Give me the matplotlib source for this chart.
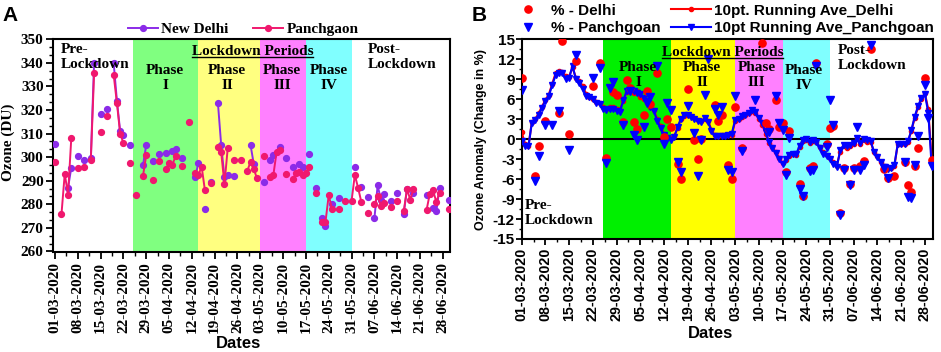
import numpy as np
import pandas as pd
import matplotlib
matplotlib.use('Agg')
import matplotlib.pyplot as plt
from matplotlib.lines import Line2D
from matplotlib.ticker import AutoMinorLocator

plt.rcParams['axes.unicode_minus'] = False
SERIF = 'Liberation Serif'
SANS = 'Liberation Sans'

# ---------------- data ----------------
start_date = '01-03-2020'
tick_labels = ['01-03-2020', '08-03-2020', '15-03-2020', '22-03-2020', '29-03-2020',
               '05-04-2020', '12-04-2020', '19-04-2020', '26-04-2020', '03-05-2020',
               '10-05-2020', '17-05-2020', '24-05-2020', '31-05-2020', '07-06-2020',
               '14-06-2020', '21-06-2020', '28-06-2020']
phase_bounds = ['25-03-2020', '14-04-2020', '03-05-2020', '17-05-2020', '31-05-2020']
phase_names = ['Phase\nI', 'Phase\nII', 'Phase\nIII', 'Phase\nIV']

# Panel A: total column ozone (DU); day offsets from 01-03-2020
delhi_days = [0, 4, 5, 7, 9, 11, 12, 14, 16, 18, 19, 20, 21, 23, 27, 28, 30, 32, 34, 36,
              37, 39, 43, 44, 46, 48, 50, 51, 52, 53, 55, 60, 61, 64, 66, 67, 69, 71, 73, 75,
              76, 78, 80, 82, 83, 85, 87, 92, 94, 96, 98, 99, 100, 101, 103, 105, 107, 108,
              110, 114, 116, 117, 118, 121]
delhi_o3 = [305.5, 287, 295.5, 300.5, 299, 299.5, 340, 318.3, 320.3, 340, 324, 311, 309.5,
            305, 296.5, 305.2, 298.5, 301.4, 301.6, 302.8, 303.3, 299.5, 291.7, 297.4, 278,
            289.3, 322.9, 305, 291.5, 292.5, 292.2, 305.2, 297, 289.6, 299, 301, 304.5,
            299.5, 295.7, 297, 295.7, 301.2, 287, 274, 271, 280, 282.5, 296, 287.5, 283,
            274, 288, 282, 284.5, 281.5, 285, 276, 286.5, 285, 284, 278.5, 277, 287, 282]
panch_days = [0, 2, 3, 4, 5, 7, 9, 11, 12, 14, 16, 18, 19, 20, 21, 23, 25, 27, 28, 30, 32,
              34, 35, 36, 37, 39, 41, 43, 44, 45, 46, 48, 50, 51, 52, 53, 55, 57, 59, 60, 61,
              62, 64, 66, 67, 68, 69, 71, 73, 74, 75, 76, 77, 78, 80, 82, 83, 84, 85, 87, 89,
              91, 92, 93, 94, 96, 98, 99, 100, 101, 103, 105, 107, 108, 109, 110, 114, 115,
              116, 117, 118, 121]
panch_o3 = [298, 276, 293, 284, 308, 295.5, 296, 299, 335.5, 310.8, 317.5, 335, 323, 310,
            306, 297.7, 284, 292, 301, 290.3, 298.5, 294.9, 297.4, 296.7, 300.5, 296.3, 315,
            293.4, 292.4, 296, 286, 288.9, 304.5, 302, 288.6, 303.8, 298.9, 298.8, 294.1,
            298.1, 294.9, 291, 300.5, 291.7, 292.4, 302.3, 303, 292.9, 290.6, 293.5, 293.8,
            292.4, 293.4, 295.7, 285, 272.6, 272.6, 284, 277.9, 277.9, 281.5, 281.5, 292.5,
            287, 281, 276.5, 280, 283.5, 279.5, 280.5, 279, 281.5, 277, 286.5, 282, 286.5,
            277.5, 284.5, 286, 281, 285, 278]

# Panel B: ozone anomaly (%)
pct_delhi_days = [0, 4, 5, 7, 11, 12, 14, 16, 21, 23, 25, 27, 28, 30, 31, 32, 33, 34, 36, 37,
                  38, 40, 42, 43, 44, 46, 47, 49, 51, 52, 53, 57, 58, 59, 61, 62, 63, 65, 71,
                  72, 73, 75, 76, 77, 78, 79, 82, 83, 85, 86, 87, 90, 91, 92, 94, 95, 97, 98,
                  100, 101, 103, 107, 108, 110, 113, 114, 115, 116, 117, 119, 121]
pct_delhi = [9.2, -5.6, -1.0, 2.7, 4.0, 14.8, 0.7, 11.7, 8.0, 11.4, -2.9, 7.1, 6.6, 2.6, 8.9,
             7.7, 2.6, 1.5, 3.6, 7.3, 5.3, 10.0, 0.3, 3.0, 1.9, -3.8, -6.0, 7.6, -0.2, -3.0,
             0.0, 5.2, 2.8, 3.7, -3.9, -6.0, 4.9, -1.4, 14.4, 2.4, 1.5, 5.9, 1.8, 2.4, -4.9,
             1.2, -6.8, -8.5, -4.3, -4.1, 11.4, -0.8, 1.7, 2.0, -11.1, -4.3, -6.7, -4.4, -4.1,
             -3.3, 13.6, -4.5, -5.8, -5.5, -3.4, -6.9, -7.9, -4.1, -1.3, 9.2, -3.1]
pct_panch_days = [0, 4, 5, 7, 9, 11, 14, 16, 21, 23, 25, 26, 27, 30, 32, 33, 34, 36, 37, 38,
                  40, 42, 43, 44, 46, 47, 49, 51, 52, 53, 54, 55, 57, 58, 59, 61, 62, 63, 65,
                  69, 73, 75, 76, 77, 78, 79, 82, 83, 85, 86, 87, 90, 91, 92, 94, 95, 97, 98,
                  99, 100, 101, 103, 107, 108, 113, 114, 115, 116, 117, 119, 120, 121]
pct_panch = [7.4, -6.3, -2.5, 2.2, 2.1, 4.3, -1.6, 12.6, 9.2, 10.7, -3.6, 7.7, 8.6, 2.1, 7.3,
             0.6, -0.1, 1.9, 5.5, 6.4, 11.0, -0.8, 5.5, 4.4, -3.4, -5.0, 5.0, 0.9, -5.5, -0.1,
             6.6, 12.0, 4.6, 3.7, 4.8, -4.6, -4.9, 6.5, -1.8, 5.9, 1.0, 6.5, 2.5, 1.3, -5.4,
             0.1, -7.5, -8.6, -4.8, -4.6, 11.0, -1.2, 5.9, 2.1, -11.4, -4.6, -6.9, -4.6, 1.9,
             -4.6, -3.9, 14.2, -4.4, -5.9, -3.4, -8.7, -8.8, -3.9, 0.4, 8.2, 3.2, -4.1]
# 10-point running averages, one value per day (01-03 .. 30-06)
ra_delhi = [1.0, -0.7, -1.0, 2.6, 3.0, 3.9, 4.9, 5.9, 6.7, 8.3, 9.9, 10.3, 10.1, 9.5, 9.4,
            10.8, 9.2, 8.8, 8.0, 6.8, 6.3, 6.1, 5.6, 5.5, 4.8, 4.6, 4.8, 4.8, 4.5, 4.4, 5.8,
            7.1, 7.3, 7.0, 7.2, 6.4, 6.0, 5.5, 4.8, 4.4, 3.0, 2.0, 0.8, 0.3, 0.1, 0.4, 1.6,
            3.0, 3.5, 3.7, 3.5, 3.2, 2.9, 2.7, 3.1, 2.8, 1.4, 0.6, 0.5, 0.6, 0.6, 0.6, 0.6,
            2.7, 3.0, 3.3, 3.6, 3.9, 4.3, 3.9, 3.0, 2.2, 0.8, -0.6, -1.2, -2.0, -2.8, -3.6,
            -3.2, -2.5, -2.3, -2.4, -1.2, -0.3, -0.1, -0.6, -0.3, -0.5, -1.2, -2.0, -2.4,
            -2.8, -3.5, -4.0, -1.9, -1.1, -1.3, -1.1, -0.8, 0.1, -0.8, -0.2, -0.4, -0.4, -2.0,
            -2.6, -3.4, -4.1, -4.4, -4.4, -4.0, -0.8, -0.8, -0.8, -0.4, 1.2, 3.2, 4.8, 6.0,
            6.9, 4.5, -3.0]
ra_panch = [-0.3, -1.0, -1.1, 2.5, 2.9, 3.7, 4.7, 5.8, 6.5, 8.1, 9.6, 10.0, 9.9, 9.1, 9.2,
            11.0, 9.0, 8.5, 7.6, 6.5, 6.4, 6.0, 5.4, 5.3, 4.6, 4.4, 4.5, 4.6, 4.2, 4.1, 5.9,
            7.2, 7.5, 7.3, 7.0, 6.8, 6.2, 5.7, 4.9, 4.2, 2.8, 1.6, 0.6, 0.2, -0.1, 0.3, 1.8,
            3.1, 3.6, 3.6, 3.4, 3.0, 2.7, 2.6, 3.2, 2.6, 1.2, 0.4, 0.5, 0.5, 0.5, 0.6, 0.8,
            2.9, 3.1, 3.5, 3.7, 4.0, 4.4, 4.1, 3.2, 2.4, 1.0, -0.4, -1.4, -2.1, -3.0, -3.8,
            -3.0, -2.4, -2.2, -2.3, -1.0, -0.1, 0.0, -0.5, -0.2, -0.4, -1.3, -2.2, -2.6,
            -3.0, -3.7, -4.2, -1.7, -0.9, -1.1, -0.9, -0.6, 0.2, -0.6, 0.0, -0.2, -0.3, -1.9,
            -2.7, -3.5, -4.2, -4.5, -4.3, -3.9, -0.7, -0.7, -0.7, -0.3, 1.3, 3.4, 5.0, 6.2,
            6.8, 4.0, -4.0]

# ---------------- helpers ----------------
t0 = pd.to_datetime(start_date, format='%d-%m-%Y')


def to_day(s):
    return (pd.to_datetime(s, format='%d-%m-%Y') - t0).days


def daily(days, vals, n=122):
    arr = np.full(n, np.nan)
    arr[np.array(days)] = vals
    return arr


W, H = 941, 352
fx = lambda x: x / W
fy = lambda y: 1 - y / H

tick_pos = [to_day(s) for s in tick_labels]
bounds = [to_day(s) for s in phase_bounds]

fig = plt.figure(figsize=(9.41, 3.52), dpi=100)
axA = fig.add_axes([fx(52.7), fy(251.5), 397.3 / W, 212.2 / H])
axB = fig.add_axes([fx(521.7), fy(239), 411.3 / W, 199.7 / H])

# ---------------- Panel A ----------------
colsA = ['#80FF80', '#FFFF80', '#FF80FF', '#80FFFF']
for i, c in enumerate(colsA):
    axA.axvspan(bounds[i], bounds[i + 1], color=c, lw=0, zorder=0)

purple = '#8B2BE8'
pink = '#F0186E'
x = np.arange(122)
axA.plot(x, daily(delhi_days, delhi_o3), '-', color=purple, marker='o', ms=4.2, lw=1.4,
         mec=purple, zorder=3)
axA.plot(x, daily(panch_days, panch_o3), '-', color=pink, marker='o', ms=4.2, lw=1.4,
         mec=pink, zorder=4)
axA.set_xlim(-0.7, 121.2)
axA.set_ylim(260, 350)
axA.set_yticks(np.arange(260, 351, 10))
axA.yaxis.set_minor_locator(AutoMinorLocator(3))
axA.set_xticks(tick_pos)
axA.set_xticks(np.arange(3.5, 122, 7), minor=True)
axA.set_xticklabels(tick_labels, rotation=90)
axA.tick_params(axis='both', which='major', direction='out', length=5, width=1.3,
                labelsize=11)
axA.tick_params(axis='both', which='minor', direction='out', length=3, width=1.0)
axA.tick_params(axis='y', pad=1.5)
axA.tick_params(axis='x', pad=2.5)
for lab in axA.get_xticklabels() + axA.get_yticklabels():
    lab.set_fontfamily(SERIF)
    lab.set_fontweight('bold')
for s in axA.spines.values():
    s.set_linewidth(1.5)
axA.set_ylabel('Ozone (DU)', fontfamily=SERIF, fontweight='bold', fontsize=11)
axA.yaxis.set_label_coords(-0.095, 0.514)
axA.set_xlabel('Dates', fontfamily=SANS, fontweight='bold', fontsize=12)
axA.xaxis.set_label_coords(0.467, -0.398)

hA = [Line2D([], [], color=purple, marker='o', ms=4.2, lw=1.4),
      Line2D([], [], color=pink, marker='o', ms=4.2, lw=1.4)]
fig.legend(hA, ['New Delhi', 'Panchgaon'], loc='center', bbox_to_anchor=(fx(243), fy(29)),
           ncol=2, frameon=False, handlelength=2.0, handletextpad=0.2, columnspacing=1.6,
           borderpad=0.1, prop={'family': SERIF, 'weight': 'bold', 'size': 11})

tA = dict(fontfamily=SERIF, fontweight='bold', fontsize=11, linespacing=1.2)
fig.text(fx(61), fy(43), 'Pre-\nLockdown', ha='left', va='top', **tA)
fig.text(fx(368), fy(43), 'Post-\nLockdown', ha='left', va='top', **tA)
fig.text(fx(252.5), fy(55), 'Lockdown Periods', ha='center', va='baseline', **tA)
fig.add_artist(Line2D([fx(191.7), fx(313.3)], [fy(57.3), fy(57.3)], color='k', lw=1.0))
for cx, nm in zip([165, 227, 282, 329], phase_names):
    fig.text(fx(cx), fy(64), nm, ha='center', va='top', multialignment='center', **tA)

fig.text(fx(2), fy(6), 'A', fontfamily=SANS, fontweight='bold', fontsize=15, ha='left', va='top')

# ---------------- Panel B ----------------
colsB = ['#00F000', '#FFFF00', '#FF80FF', '#80FFFF']
for i, c in enumerate(colsB):
    axB.axvspan(bounds[i], bounds[i + 1], color=c, lw=0, zorder=0)
axB.axhline(0, color='k', lw=1.5, zorder=1)

red = '#FF0000'
blue = '#0000FF'
axB.plot(x, ra_delhi, '-', color=red, marker='o', ms=3, lw=1.5, zorder=3)
axB.plot(x, ra_panch, '-', color=blue, marker='v', ms=4, lw=1.5, zorder=4)
axB.plot(pct_delhi_days, pct_delhi, 'o', color=red, ms=5.2, ls='none', zorder=5)
axB.plot(pct_panch_days, pct_panch, 'v', color=blue, ms=5.8, ls='none', zorder=6)

axB.set_xlim(0, 121.4)
axB.set_ylim(-15, 15)
axB.set_yticks(np.arange(-15, 16, 3))
axB.yaxis.set_minor_locator(AutoMinorLocator(2))
axB.set_xticks(tick_pos)
axB.set_xticks(np.arange(3.5, 122, 7), minor=True)
axB.set_xticklabels(tick_labels, rotation=90)
axB.tick_params(axis='both', which='major', direction='out', length=4, width=1.3,
                labelsize=11)
axB.tick_params(axis='x', which='major', labelsize=10.3)
axB.tick_params(axis='both', which='minor', direction='out', length=2.5, width=1.0)
axB.tick_params(axis='y', pad=1.0)
axB.tick_params(axis='x', pad=2.0)
for lab in axB.get_xticklabels() + axB.get_yticklabels():
    lab.set_fontfamily(SANS)
    lab.set_fontweight('bold')
for s in axB.spines.values():
    s.set_linewidth(1.5)
axB.set_ylabel('Ozone Anomaly (Change in %)', fontfamily=SANS, fontweight='bold', fontsize=9)
axB.yaxis.set_label_coords(-0.084, 0.496)
axB.set_xlabel('Dates', fontfamily=SANS, fontweight='bold', fontsize=12)
axB.xaxis.set_label_coords(0.459, -0.435)

hB = [Line2D([], [], color=red, marker='o', ms=5.2, ls='none'),
      Line2D([], [], color=blue, marker='v', ms=5.8, ls='none'),
      Line2D([], [], color=red, marker='o', ms=3, lw=1.5),
      Line2D([], [], color=blue, marker='v', ms=4, lw=1.5)]
fig.legend(hB, ['% - Delhi', '% - Panchgoan', '10pt. Running Ave_Delhi',
                '10pt Running Ave_Panchgoan'],
           loc='center', bbox_to_anchor=(fx(721), fy(19.5)), ncol=2, frameon=False,
           handlelength=2.6, handletextpad=0.2, columnspacing=0.65, labelspacing=0.25,
           borderpad=0.1, prop={'family': SANS, 'weight': 'bold', 'size': 11})

fig.text(fx(525), fy(199), 'Pre-\nLockdown', ha='left', va='top', **tA)
fig.text(fx(838), fy(44), 'Post-\nLockdown', ha='left', va='top', **tA)
fig.text(fx(722.5), fy(56), 'Lockdown Periods', ha='center', va='baseline', **tA)
fig.add_artist(Line2D([fx(661.7), fx(783.3)], [fy(58.3), fy(58.3)], color='k', lw=1.0))
for cx, cy, nm in zip([638, 702, 756.7, 804], [61, 61, 61, 64], phase_names):
    fig.text(fx(cx), fy(cy), nm, ha='center', va='top', multialignment='center', **tA)

fig.text(fx(472), fy(6), 'B', fontfamily=SANS, fontweight='bold', fontsize=15, ha='left', va='top')

fig.savefig('out.png', dpi=100)
